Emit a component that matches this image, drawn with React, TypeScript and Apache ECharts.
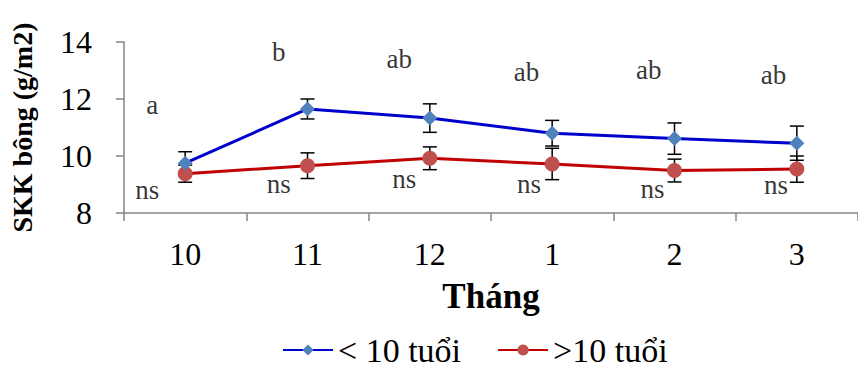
import React, { useEffect, useRef } from "react";
import * as echarts from "echarts";

const categories = ["10", "11", "12", "1", "2", "3"];
const youngName = "< 10 tuổi";
const oldName = ">10 tuổi";
const youngMean = [9.75, 11.65, 11.33, 10.8, 10.61, 10.45];
const youngErr = [0.4, 0.35, 0.5, 0.45, 0.55, 0.6];
const oldMean = [9.38, 9.66, 9.92, 9.72, 9.49, 9.54];
const oldErr = [0.3, 0.45, 0.4, 0.55, 0.4, 0.46];
const yTicks = { min: 8, max: 14, interval: 2 };

// significance letters: [x position in category units, y value, text]
const letterNotes: [number, number, string][] = [
  [-0.27, 11.79, "a"],
  [0.765, 13.65, "b"],
  [1.75, 13.4, "ab"],
  [2.79, 12.95, "ab"],
  [3.79, 13.02, "ab"],
  [4.81, 12.84, "ab"],
];
const nsNotes: [number, number, string][] = [
  [-0.31, 8.81, "ns"],
  [0.765, 9.02, "ns"],
  [1.79, 9.19, "ns"],
  [2.81, 9.02, "ns"],
  [3.82, 8.84, "ns"],
  [4.83, 8.98, "ns"],
];

const FONT = "Liberation Serif";

export default function App() {
  const ref = useRef<HTMLDivElement>(null);
  useEffect(() => {
    if (!ref.current) return;
    const chart = echarts.init(ref.current, null, { renderer: "svg" });

    const errorSeries = (name: string, mean: number[], err: number[]) => ({
      type: "custom",
      name: name + "_err",
      xAxisIndex: 0,
      yAxisIndex: 0,
      z: 1,
      silent: true,
      data: mean.map((m, i) => [i, m - err[i], m + err[i]]),
      renderItem: (params: any, api: any) => {
        const i = api.value(0);
        const lo = api.coord([i, api.value(1)]);
        const hi = api.coord([i, api.value(2)]);
        const w = 7;
        const style = { stroke: "#000", lineWidth: 1.5 };
        return {
          type: "group",
          children: [
            { type: "line", shape: { x1: lo[0], y1: lo[1], x2: hi[0], y2: hi[1] }, style },
            { type: "line", shape: { x1: lo[0] - w, y1: lo[1], x2: lo[0] + w, y2: lo[1] }, style },
            { type: "line", shape: { x1: hi[0] - w, y1: hi[1], x2: hi[0] + w, y2: hi[1] }, style },
          ],
        };
      },
    });

    const noteSeries = (notes: [number, number, string][]) => ({
      type: "scatter",
      xAxisIndex: 1,
      yAxisIndex: 0,
      symbolSize: 0,
      silent: true,
      z: 5,
      data: notes.map((n) => ({ value: [n[0], n[1]], label: { formatter: n[2] } })),
      label: {
        show: true,
        position: "inside",
        fontFamily: FONT,
        fontSize: 27,
        color: "#000",
      },
    });

    chart.setOption({
      animation: false,
      textStyle: { fontFamily: FONT },
      grid: { left: 124, top: 42, bottom: 156, right: -7 },
      xAxis: [
        {
          type: "category",
          data: categories,
          boundaryGap: true,
          name: "Tháng",
          nameLocation: "middle",
          nameGap: 66,
          nameTextStyle: { fontFamily: FONT, fontSize: 35, fontWeight: "bold", color: "#000" },
          axisLine: { lineStyle: { color: "#868686", width: 1.5 } },
          axisTick: { show: true, length: 8, inside: false, lineStyle: { color: "#868686", width: 1.5 } },
          axisLabel: { fontFamily: FONT, fontSize: 32, color: "#000", margin: 25 },
          splitLine: { show: false },
        },
        {
          type: "value",
          min: -0.5,
          max: 5.5,
          show: false,
        },
      ],
      yAxis: {
        type: "value",
        min: yTicks.min,
        max: yTicks.max,
        interval: yTicks.interval,
        name: "SKK bông (g/m2)",
        nameLocation: "middle",
        nameGap: 88,
        nameTextStyle: { fontFamily: FONT, fontSize: 28, fontWeight: "bold", color: "#000" },
        axisLine: { show: true, onZero: false, lineStyle: { color: "#868686", width: 1.5 } },
        axisTick: { show: true, length: 8, lineStyle: { color: "#868686", width: 1.5 } },
        axisLabel: { fontFamily: FONT, fontSize: 32, color: "#000", margin: 32 },
        splitLine: { show: false },
      },
      legend: {
        left: 282,
        top: 329,
        padding: 0,
        itemWidth: 50,
        itemHeight: 14,
        itemGap: 36,
        textStyle: { fontFamily: FONT, fontSize: 34, lineHeight: 42, color: "#000" },
        data: [youngName, oldName],
      },
      series: [
        errorSeries(youngName, youngMean, youngErr),
        errorSeries(oldName, oldMean, oldErr),
        {
          type: "line",
          name: oldName,
          data: oldMean,
          z: 3,
          symbol: "circle",
          symbolSize: 15,
          lineStyle: { color: "#C00000", width: 3 },
          itemStyle: { color: "#C0504D" },
        },
        {
          type: "line",
          name: youngName,
          data: youngMean,
          z: 4,
          symbol: "diamond",
          symbolSize: 15,
          lineStyle: { color: "#0000CC", width: 3 },
          itemStyle: { color: "#4F81BD" },
        },
        noteSeries(letterNotes),
        noteSeries(nsNotes),
      ],
    });
    return () => chart.dispose();
  }, []);

  return (
    <div
      ref={ref}
      style={{ position: "absolute", left: 0, top: 0, width: 858, height: 369, background: "#fff" }}
    />
  );
}
